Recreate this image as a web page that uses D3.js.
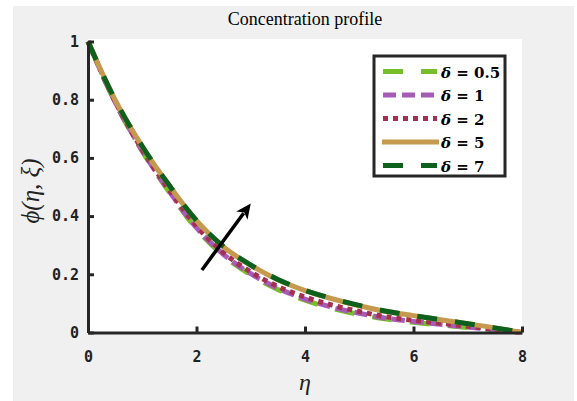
<!DOCTYPE html>
<html><head><meta charset="utf-8">
<script src="https://cdn.jsdelivr.net/npm/d3@7/dist/d3.min.js"></script>
<style>body{margin:0;background:#fff;}svg{display:block;}</style>
</head><body>
<svg id="c" width="577" height="401"></svg>
<script>
const eta = [0,0.5,1,1.5,2,2.5,3,3.5,4,4.5,5,5.5,6,6.5,7,7.5,8];
const phi05 = [1,0.791,0.623,0.482,0.356,0.264,0.198,0.148,0.111,0.083,0.062,0.046,0.035,0.026,0.017,0.009,0];
const phi1  = [1,0.792,0.625,0.485,0.360,0.268,0.202,0.152,0.115,0.087,0.066,0.049,0.038,0.028,0.019,0.010,0];
const phi2  = [1,0.794,0.628,0.489,0.366,0.274,0.208,0.158,0.122,0.094,0.072,0.054,0.042,0.032,0.021,0.011,0];
const phi5  = [1,0.799,0.639,0.504,0.384,0.294,0.231,0.181,0.144,0.116,0.092,0.072,0.058,0.044,0.030,0.016,0];
const phi7  = [1,0.800,0.640,0.505,0.385,0.295,0.232,0.182,0.145,0.117,0.093,0.073,0.058,0.044,0.030,0.016,0];
const seriesLabels = ["0.5","1","2","5","7"];
const xTicks = [0,2,4,6,8];
const yTicks = [0,0.2,0.4,0.6,0.8,1];
const yTickLabels = ["0","0.2","0.4","0.6","0.8","1"];
const arrowFrom = [2.10,0.215];
const arrowTo = [3.0,0.443];

const series = [
  {vals:phi05, color:"#77bf2a", dash:"20,18", w:5},
  {vals:phi1,  color:"#a65bb7", dash:"13,6", w:5},
  {vals:phi2,  color:"#a4304f", dash:"5,5", w:5},
  {vals:phi5,  color:"#c59a4e", dash:null, w:5},
  {vals:phi7,  color:"#0e601d", dash:"20,18", w:5}
];

const svg = d3.select("#c");
svg.append("rect").attr("x",13).attr("y",6).attr("width",561).attr("height",395).attr("fill","#f0f0f0");

const L=88, R=522, T=39, B=332.5;
const x = d3.scaleLinear().domain([0,8]).range([L,R]);
const y = d3.scaleLinear().domain([0,1]).range([B,B-291]);

svg.append("rect").attr("x",L).attr("y",T).attr("width",R-L).attr("height",B-T).attr("fill","#fff");

const line = d3.line().x((d,i)=>x(eta[i])).y(d=>y(d)).curve(d3.curveMonotoneX);
series.forEach(s=>{
  svg.append("path").attr("d",line(s.vals)).attr("fill","none")
    .attr("stroke",s.color).attr("stroke-width",s.w)
    .attr("stroke-dasharray",s.dash).attr("stroke-linecap","butt");
});

// arrow
const ax0=x(arrowFrom[0]), ay0=y(arrowFrom[1]), ax1=x(arrowTo[0]), ay1=y(arrowTo[1]);
const ang=Math.atan2(ay1-ay0,ax1-ax0);
const hl=15, hw=7;
const bx=ax1-hl*Math.cos(ang), by=ay1-hl*Math.sin(ang);
svg.append("line").attr("x1",ax0).attr("y1",ay0).attr("x2",bx+3*Math.cos(ang)).attr("y2",by+3*Math.sin(ang))
  .attr("stroke","#000").attr("stroke-width",3.5);
svg.append("path").attr("d",`M${ax1},${ay1}L${bx-hw*Math.sin(ang)},${by+hw*Math.cos(ang)}L${bx+4*Math.cos(ang)},${by+4*Math.sin(ang)}L${bx+hw*Math.sin(ang)},${by-hw*Math.cos(ang)}Z`).attr("fill","#000");

// axes
const tickFont = "'DejaVu Sans Mono', monospace";
const xAxis = svg.append("g").attr("transform",`translate(0,${B})`)
  .call(d3.axisBottom(x).tickValues(xTicks).tickSizeInner(-6).tickSizeOuter(0).tickPadding(19).tickFormat(d3.format("d")));
const yAxis = svg.append("g").attr("transform",`translate(${L},0)`)
  .call(d3.axisLeft(y).tickValues(yTicks).tickSizeInner(-6).tickSizeOuter(0).tickPadding(9).tickFormat((d,i)=>yTickLabels[i]));
[xAxis,yAxis].forEach(g=>{
  g.select(".domain").attr("stroke","#262626").attr("stroke-width",3);
  g.selectAll(".tick line").attr("stroke","#262626").attr("stroke-width",3);
  g.selectAll("text").attr("font-family",tickFont).attr("font-size",15).attr("font-weight","bold").attr("fill","#222");
});

// title & labels
svg.append("text").attr("x",(L+R)/2).attr("y",25).attr("text-anchor","middle")
  .attr("font-family","'Liberation Serif', serif").attr("font-size",18).attr("fill","#000").text("Concentration profile");
svg.append("text").attr("x",(L+R)/2).attr("y",390).attr("text-anchor","middle")
  .attr("font-family","'Liberation Serif', serif").attr("font-style","italic").attr("font-size",24).attr("fill","#222").text("η");
svg.append("text").attr("transform",`translate(39,${191}) rotate(-90)`).attr("text-anchor","middle")
  .attr("font-family","'Liberation Serif', serif").attr("font-style","italic").attr("font-size",25).attr("fill","#222").text("ϕ(η, ξ)");

// legend
const lg = svg.append("g");
lg.append("rect").attr("x",374).attr("y",56).attr("width",131).attr("height",120)
  .attr("fill","#fff").attr("stroke","#262626").attr("stroke-width",3);
series.forEach((s,i)=>{
  const yy = 71.5 + i*23.5;
  const x0 = s.dash===null ? 382 : 383;
  lg.append("line").attr("x1",x0).attr("x2",s.dash===null?439:437).attr("y1",yy).attr("y2",yy)
    .attr("stroke",s.color).attr("stroke-width",s.w).attr("stroke-dasharray",s.dash);
  const t = lg.append("text").attr("x",441).attr("y",yy+6).attr("font-family","'DejaVu Serif', serif")
    .attr("font-weight","bold").attr("font-size",15).attr("fill","#000");
  t.append("tspan").attr("font-style","italic").text("δ");
  t.append("tspan").text(" = " + seriesLabels[i]);
});
</script>
</body></html>
